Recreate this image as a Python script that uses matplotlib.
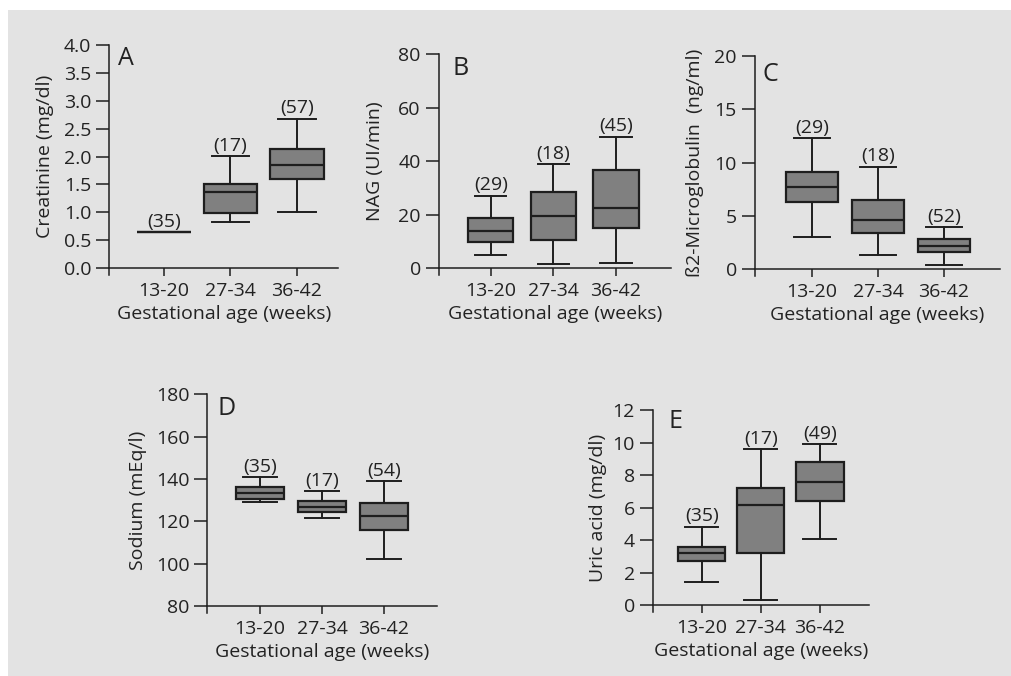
import matplotlib
matplotlib.use("Agg")
import matplotlib.pyplot as plt
from matplotlib.patches import Rectangle

plt.rcParams['font.family'] = ['Open Sans', 'DejaVu Sans']

groups = ["13-20", "27-34", "36-42"]

# Panel A: Creatinine (mg/dl)
creat_low = [0.64, 0.82, 1.01]
creat_q1 = [0.64, 0.99, 1.59]
creat_med = [0.64, 1.37, 1.85]
creat_q3 = [0.64, 1.51, 2.13]
creat_high = [0.64, 2.01, 2.68]
creat_n = [35, 17, 57]

# Panel B: NAG (UI/min)
nag_low = [4.8, 1.5, 2.0]
nag_q1 = [9.9, 10.4, 14.8]
nag_med = [13.8, 19.6, 22.6]
nag_q3 = [18.6, 28.3, 36.5]
nag_high = [27.1, 38.9, 49.2]
nag_n = [29, 18, 45]

# Panel C: B2-microglobulin (ng/ml)
b2m_low = [3.0, 1.35, 0.4]
b2m_q1 = [6.3, 3.4, 1.6]
b2m_med = [7.7, 4.6, 2.2]
b2m_q3 = [9.1, 6.5, 2.8]
b2m_high = [12.3, 9.6, 3.95]
b2m_n = [29, 18, 52]

# Panel D: Sodium (mEq/l)
na_low = [129.0, 121.6, 102.2]
na_q1 = [130.4, 124.4, 116.0]
na_med = [133.2, 126.8, 122.5]
na_q3 = [136.4, 129.7, 128.6]
na_high = [140.8, 134.3, 139.0]
na_n = [35, 17, 54]

# Panel E: Uric acid (mg/dl)
ua_low = [1.45, 0.31, 4.05]
ua_q1 = [2.7, 3.19, 6.43]
ua_med = [3.24, 6.18, 7.56]
ua_q3 = [3.6, 7.23, 8.83]
ua_high = [4.83, 9.58, 9.91]
ua_n = [35, 17, 49]

W, H = 1012, 676
fig = plt.figure(figsize=(W / 100, H / 100), dpi=100)
fig.patch.set_facecolor('white')
fig.patches.append(Rectangle((8 / W, -0.01), 1.02 - 8 / W, 1.01 - 10 / H,
                             transform=fig.transFigure, facecolor='#e3e3e3',
                             edgecolor='none', zorder=-10))

DARK = '#1e1e1e'
TXT = '#222222'
FILL = '#808080'
FS = 14

panels = [
    dict(letter='A', ylabel='Creatinine (mg/dl)', yticks=[0, 0.5, 1, 1.5, 2, 2.5, 3, 3.5, 4],
         fmt='{:.1f}', data=(creat_low, creat_q1, creat_med, creat_q3, creat_high, creat_n),
         box=(109.3, 338, 45, 268), xr=(0.177, 3.617), width=0.8, lab=(9, 1), ylx=45),
    dict(letter='B', ylabel='NAG (UI/min)', yticks=[0, 20, 40, 60, 80],
         fmt='{:.0f}', data=(nag_low, nag_q1, nag_med, nag_q3, nag_high, nag_n),
         box=(438.7, 671, 54.3, 268), xr=(0.17, 3.878), width=0.72, lab=(14, 2), ylx=375),
    dict(letter='C', ylabel='ß2-Microglobulin  (ng/ml)', yticks=[0, 5, 10, 15, 20],
         fmt='{:.0f}', data=(b2m_low, b2m_q1, b2m_med, b2m_q3, b2m_high, b2m_n),
         box=(754.7, 1000, 55.7, 269.3), xr=(0.132, 3.848), width=0.78, lab=(8, 6), ylx=695),
    dict(letter='D', ylabel='Sodium (mEq/l)', yticks=[80, 100, 120, 140, 160, 180],
         fmt='{:.0f}', data=(na_low, na_q1, na_med, na_q3, na_high, na_n),
         box=(207.3, 437.3, 394.3, 606), xr=(0.15, 3.86), width=0.78, lab=(10, 2), ylx=138),
    dict(letter='E', ylabel='Uric acid (mg/dl)', yticks=[0, 2, 4, 6, 8, 10, 12],
         fmt='{:.0f}', data=(ua_low, ua_q1, ua_med, ua_q3, ua_high, ua_n),
         box=(652.7, 869, 410, 605.3), xr=(0.172, 3.83), width=0.8, lab=(16, -1), ylx=598),
]

EXT = 7  # px the left spine extends below the x axis

for p in panels:
    left, right, top, y0 = p['box']
    ymin, ymax = p['yticks'][0], p['yticks'][-1]
    bottom = y0 + EXT
    ax = fig.add_axes([left / W, 1 - bottom / H, (right - left) / W, (bottom - top) / H])
    ax.set_facecolor('none')
    ylo = ymin - EXT * (ymax - ymin) / (y0 - top)
    ax.set_ylim(ylo, ymax)
    ax.set_xlim(*p['xr'])

    lo, q1, med, q3, hi, ns = p['data']
    stats = [dict(whislo=a, q1=b, med=c, q3=d, whishi=e, label=g)
             for a, b, c, d, e, g in zip(lo, q1, med, q3, hi, groups)]
    w = p['width']
    ax.bxp(stats, positions=[1, 2, 3], widths=w, capwidths=w * 0.7,
           patch_artist=True, showfliers=False,
           boxprops=dict(facecolor=FILL, edgecolor=DARK, linewidth=1.6),
           medianprops=dict(color=DARK, linewidth=1.6),
           whiskerprops=dict(color=DARK, linewidth=1.4),
           capprops=dict(color=DARK, linewidth=1.4))
    for x, h, n in zip([1, 2, 3], hi, ns):
        ax.annotate(f'({n})', (x, h), xytext=(0, 1.0), textcoords='offset points',
                    ha='center', va='bottom', fontsize=FS, color=TXT)

    for s in ['top', 'right']:
        ax.spines[s].set_visible(False)
    ax.spines['bottom'].set_position(('data', ymin))
    for s in ['left', 'bottom']:
        ax.spines[s].set_linewidth(1.1)
        ax.spines[s].set_color(DARK)

    ax.set_yticks(p['yticks'])
    ax.set_yticklabels([p['fmt'].format(v) for v in p['yticks']])
    ax.set_xticks([1, 2, 3])
    ax.set_xticklabels(groups)
    ax.tick_params(axis='y', direction='out', length=9.4, width=1.1, pad=3.5,
                   labelsize=FS, color=DARK, labelcolor=TXT)
    ax.tick_params(axis='x', direction='out', length=5.8, width=1.1, pad=4,
                   labelsize=FS, color=DARK, labelcolor=TXT)

    hpx = bottom - top
    wpx = right - left
    ax.set_ylabel(p['ylabel'], fontsize=FS, color=TXT, va='center')
    ax.yaxis.set_label_coords((p['ylx'] - left) / wpx, 1 - ((top + y0) / 2 - top) / hpx)
    ax.set_xlabel('Gestational age (weeks)', fontsize=FS, color=TXT, va='center')
    ax.xaxis.set_label_coords(0.5, 1 - (y0 + 46 - top) / hpx)

    ax.text(p['lab'][0] / wpx, 1 - p['lab'][1] / hpx, p['letter'], transform=ax.transAxes,
            ha='left', va='top', fontsize=18, color=TXT)

fig.savefig('out.png', dpi=100, facecolor=fig.get_facecolor())
